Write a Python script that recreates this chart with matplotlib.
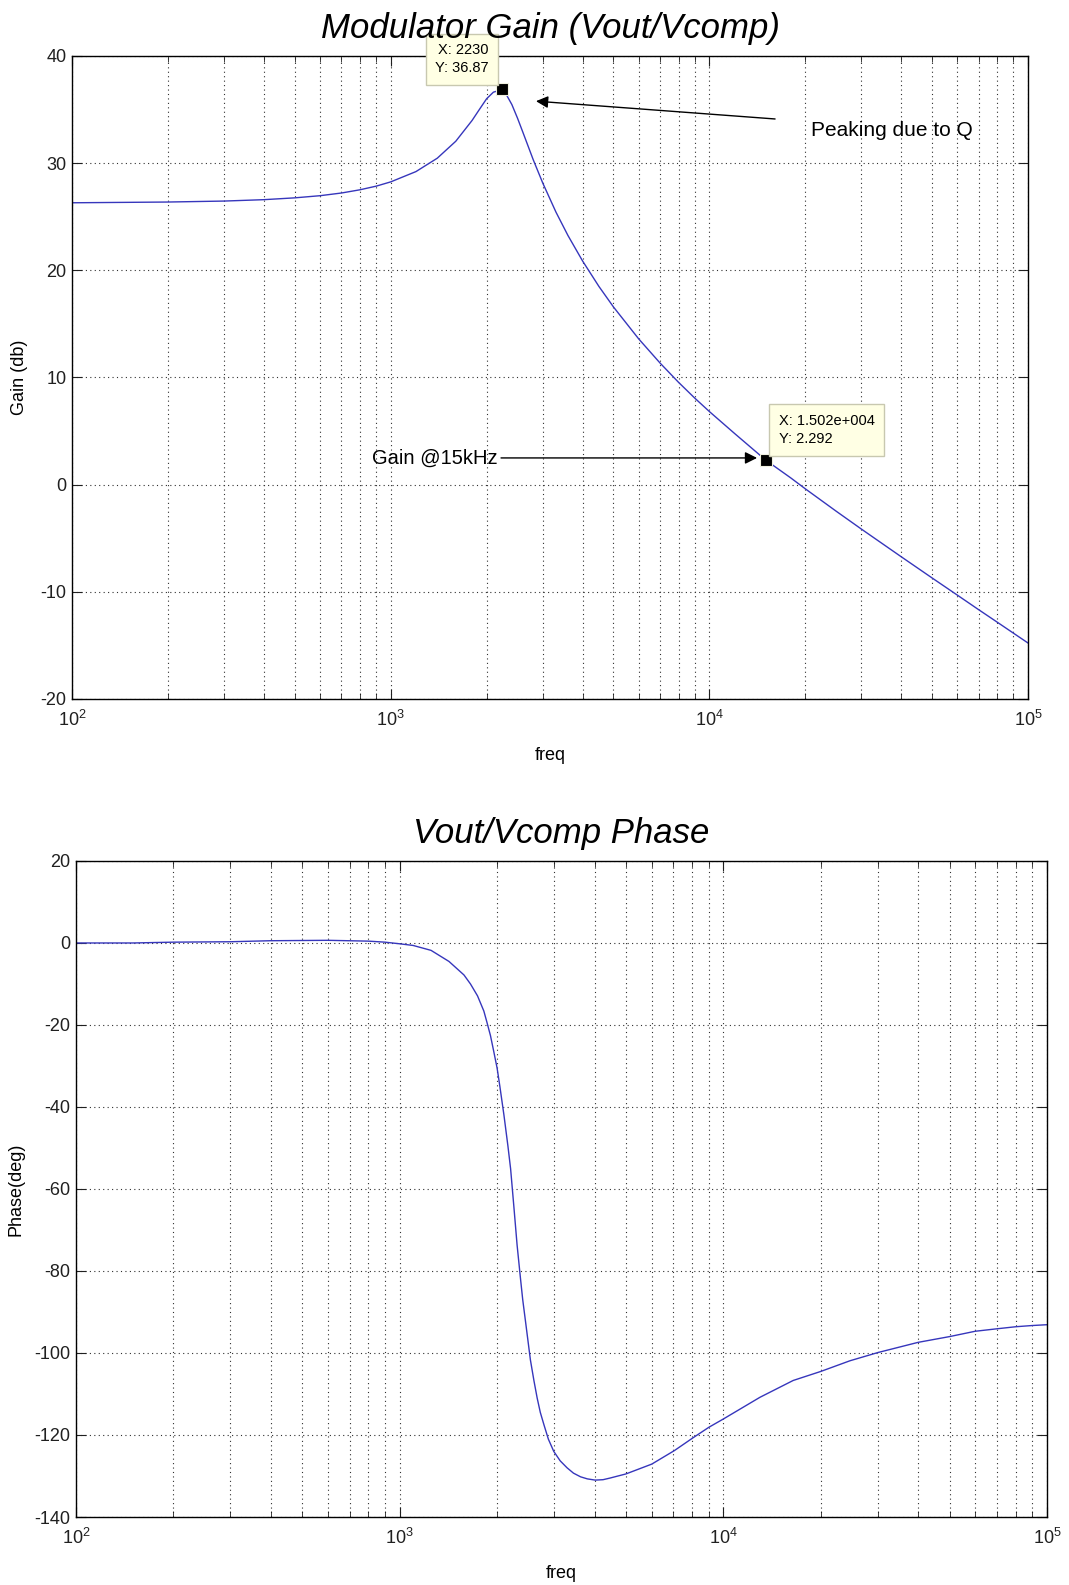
import numpy as np
import matplotlib.pyplot as plt
from matplotlib.ticker import LogLocator, NullFormatter, MultipleLocator

plt.rcParams['font.family'] = ['Liberation Sans', 'DejaVu Sans']
plt.rcParams['axes.unicode_minus'] = False

# Modulator gain curve (freq in Hz, gain in dB)
#--------------------------------------
gain_freq = [100, 150, 200, 300, 400, 500, 600, 700, 800, 900, 1000, 1200,
             1400, 1600, 1800, 1900, 2000, 2100, 2200, 2230, 2300, 2400, 2500,
             2600, 2800, 3000, 3300, 3600, 4000, 4500, 5000, 6000, 7000, 8000,
             9000, 10000, 12000, 15020, 18000, 20000, 25000, 30000, 40000,
             50000, 60000, 70000, 80000, 90000, 100000]
gain_db = [26.30, 26.34, 26.37, 26.46, 26.59, 26.76, 26.96, 27.21, 27.51,
           27.85, 28.25, 29.21, 30.46, 32.04, 33.98, 35.03, 36.01, 36.62,
           36.80, 36.87, 36.45, 35.46, 34.19, 32.86, 30.32, 28.14, 25.43,
           23.24, 20.87, 18.50, 16.58, 13.60, 11.35, 9.55, 8.07, 6.82, 4.77,
           2.292, 0.63, -0.39, -2.48, -4.15, -6.73, -8.71, -10.31, -11.67,
           -12.83, -13.86, -14.78]

# Phase curve (freq in Hz, phase in deg)
#--------------------------------------
phase_freq = [100, 150, 200, 300, 400, 600, 800, 900, 1000, 1100, 1250, 1420,
              1580, 1655, 1740, 1820, 1860, 1908, 1950, 2000, 2040, 2100,
              2160, 2202, 2254, 2306, 2364, 2400, 2449, 2535, 2600, 2660,
              2720, 2791, 2880, 2993, 3133, 3290, 3443, 3622, 3800, 4018,
              4250, 4467, 5000, 6010, 7060, 8020, 9030, 10000, 12980, 16440,
              20000, 24610, 30000, 40000, 50000, 60000, 70000, 80000, 90000,
              100000]
phase_deg = [0.0, 0.0, 0.2, 0.3, 0.55, 0.65, 0.45, 0.2, -0.2, -0.6, -1.8,
             -4.5, -7.8, -10.0, -12.9, -16.6, -19.3, -22.6, -26.2, -30.5,
             -35.0, -42.0, -49.5, -55.1, -64.4, -73.7, -82.1, -87.0, -92.4,
             -101.7, -106.8, -111.0, -114.5, -117.5, -121.0, -124.0, -126.3,
             -128.0, -129.3, -130.2, -130.7, -131.0, -130.9, -130.5, -129.5,
             -127.1, -123.8, -120.8, -118.1, -116.1, -110.8, -106.7, -104.5,
             -101.9, -99.9, -97.4, -96.0, -94.7, -94.1, -93.6, -93.3, -93.1]

# data tips
tip_peak = (2230, 36.87)
tip_15k = (15020, 2.292)

line_col = '#3636bc'
grid_kw = dict(linestyle=(0, (1, 3)), color='#303030', linewidth=0.8)
tip_box = dict(boxstyle='square,pad=0.65', fc='#ffffe4', ec='#c8c8b0', lw=1)


def style_axes(ax, ymin, ymax, ystep):
    ax.set_xscale('log')
    ax.set_xlim(100, 1e5)
    ax.set_ylim(ymin, ymax)
    ax.yaxis.set_major_locator(MultipleLocator(ystep))
    ax.xaxis.set_major_locator(LogLocator(base=10, numticks=10))
    ax.xaxis.set_minor_locator(LogLocator(base=10, subs=np.arange(2, 10), numticks=20))
    ax.xaxis.set_minor_formatter(NullFormatter())
    ax.xaxis.grid(True, which='both', **grid_kw)
    ax.yaxis.grid(True, which='major', **grid_kw)
    ax.tick_params(which='both', direction='in', top=True, right=True,
                   labelsize=13, colors='#202020')
    ax.tick_params(which='major', length=7)
    ax.tick_params(which='minor', length=4)
    ax.tick_params(axis='x', which='major', pad=8)
    ax.tick_params(axis='y', which='major', pad=4)
    for sp in ax.spines.values():
        sp.set_linewidth(1.0)


fig = plt.figure(figsize=(10.69, 15.85), dpi=100)

# GANANCIA
#--------------------------------------
ax1 = fig.add_axes([0.0674, 0.5590, 0.8943, 0.4057])
style_axes(ax1, -20, 40, 10)
ax1.plot(gain_freq, gain_db, color=line_col, linewidth=1.0)
ax1.plot(*tip_peak, 's', color='k', ms=9, mec='#f0f0e0', mew=0.8, zorder=5)
ax1.plot(*tip_15k, 's', color='k', ms=9, mec='#f0f0e0', mew=0.8, zorder=5)
t1 = ax1.set_title('Modulator Gain (Vout/Vcomp)', fontsize=25, style='italic', pad=13)
t1.set_zorder(10)
ax1.set_xlabel('freq', fontsize=13, labelpad=12)
ax1.set_ylabel('Gain (db)', fontsize=13, labelpad=9)

ax1.annotate('X: %g\nY: %.2f' % tip_peak, xy=tip_peak, xytext=(-13, 14),
             textcoords='offset pixels', ha='right', va='bottom',
             fontsize=10.5, linespacing=1.4, bbox=tip_box,
             annotation_clip=False, zorder=6)
ax1.annotate('X: 1.502e+004\nY: %.3f' % tip_15k[1], xy=tip_15k, xytext=(13, 14),
             textcoords='offset pixels', ha='left', va='bottom',
             fontsize=10.5, linespacing=1.4, bbox=tip_box, zorder=6)

ax1.annotate('', xy=(2800, 35.8), xytext=(16400, 34.1),
             arrowprops=dict(arrowstyle='-|>', color='k', lw=1.0, mutation_scale=18))
ax1.text(20850, 33.0, 'Peaking due to Q', fontsize=15, ha='left', va='center')
ax1.annotate('', xy=(14400, tip_15k[1] + 0.2), xytext=(2175, tip_15k[1] + 0.2),
             arrowprops=dict(arrowstyle='-|>', color='k', lw=1.0, mutation_scale=18))
ax1.text(2165, tip_15k[1] + 0.2, 'Gain @15kHz', fontsize=14.5, ha='right', va='center')

# FASE
#--------------------------------------
ax2 = fig.add_axes([0.0711, 0.0429, 0.9083, 0.4139])
style_axes(ax2, -140, 20, 20)
ax2.plot(phase_freq, phase_deg, color=line_col, linewidth=1.0)
ax2.set_title('Vout/Vcomp Phase', fontsize=25, style='italic', pad=13)
ax2.set_xlabel('freq', fontsize=13, labelpad=12)
ax2.set_ylabel('Phase(deg)', fontsize=13, labelpad=7)

fig.savefig('out.png', dpi=100, facecolor='white')
